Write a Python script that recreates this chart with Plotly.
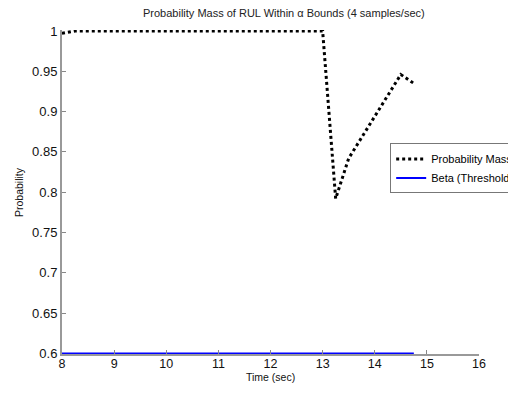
import plotly.graph_objects as go

# Data
time_pm = [8.0, 8.25, 8.5, 8.75, 9.0, 9.25, 9.5, 9.75, 10.0, 10.25, 10.5, 10.75,
           11.0, 11.25, 11.5, 11.75, 12.0, 12.25, 12.5, 12.75, 13.0,
           13.25, 13.5, 13.75, 14.0, 14.25, 14.5, 14.75]
prob_mass = [0.997, 1.0, 1.0, 1.0, 1.0, 1.0, 1.0, 1.0, 1.0, 1.0, 1.0, 1.0,
             1.0, 1.0, 1.0, 1.0, 1.0, 1.0, 1.0, 1.0, 1.0,
             0.792, 0.842, 0.868, 0.894, 0.921, 0.946, 0.935]
time_beta = [8.0, 14.75]
beta = [0.6, 0.6]

x_ticks = [8, 9, 10, 11, 12, 13, 14, 15, 16]
y_ticks = [0.6, 0.65, 0.7, 0.75, 0.8, 0.85, 0.9, 0.95, 1.0]
y_tick_labels = ["0.6", "0.65", "0.7", "0.75", "0.8", "0.85", "0.9", "0.95", "1"]

FONT = "Arial, Liberation Sans, sans-serif"

fig = go.Figure()
fig.add_trace(go.Scatter(x=time_pm, y=prob_mass, mode="lines", name="Probability Mass",
                         line=dict(color="black", width=3, dash="dot")))
fig.add_trace(go.Scatter(x=time_beta, y=beta, mode="lines", name="Beta (Threshold)",
                         line=dict(color="#0000ff", width=2)))

fig.update_layout(
    width=508, height=394,
    margin=dict(l=62, r=29, t=30, b=40, autoexpand=False),
    paper_bgcolor="white", plot_bgcolor="white",
    font=dict(family=FONT, color="black"),
    title=dict(text="Probability Mass of RUL Within α Bounds (4 samples/sec)",
               x=0.532, xref="paper", xanchor="center",
               y=1 - 13 / 394, yref="container", yanchor="middle",
               font=dict(size=11, color="#222")),
    showlegend=True,
    legend=dict(x=0.787, y=0.65, xanchor="left", yanchor="top",
                bgcolor="white", bordercolor="#777", borderwidth=1,
                font=dict(size=11, color="black"), tracegroupgap=0,
                itemwidth=30),
    annotations=[
        dict(text="Time (sec)", xref="paper", yref="paper", x=0.5, y=-0.072,
             xanchor="center", yanchor="middle", showarrow=False,
             font=dict(size=10.5, color="#111")),
        dict(text="Probability", xref="paper", yref="paper", x=-0.103, y=0.5,
             xanchor="center", yanchor="middle", showarrow=False, textangle=-90,
             font=dict(size=10.5, color="#111")),
    ],
)
fig.update_xaxes(range=[8, 16], tickvals=x_ticks, ticks="inside", ticklen=4,
                 tickcolor="#888", tickwidth=1, showline=True, linecolor="#999",
                 linewidth=2, showgrid=False, zeroline=False, ticklabelstandoff=-3,
                 tickfont=dict(size=12.5, color="#111"))
fig.update_yaxes(range=[0.5993, 1.0012], tickvals=y_ticks, ticktext=y_tick_labels,
                 ticks="inside", ticklen=4, tickcolor="#888", tickwidth=1,
                 showline=True, linecolor="#999", linewidth=2, showgrid=False,
                 zeroline=False, tickfont=dict(size=13, color="#111"))

fig.write_html("out.html")
